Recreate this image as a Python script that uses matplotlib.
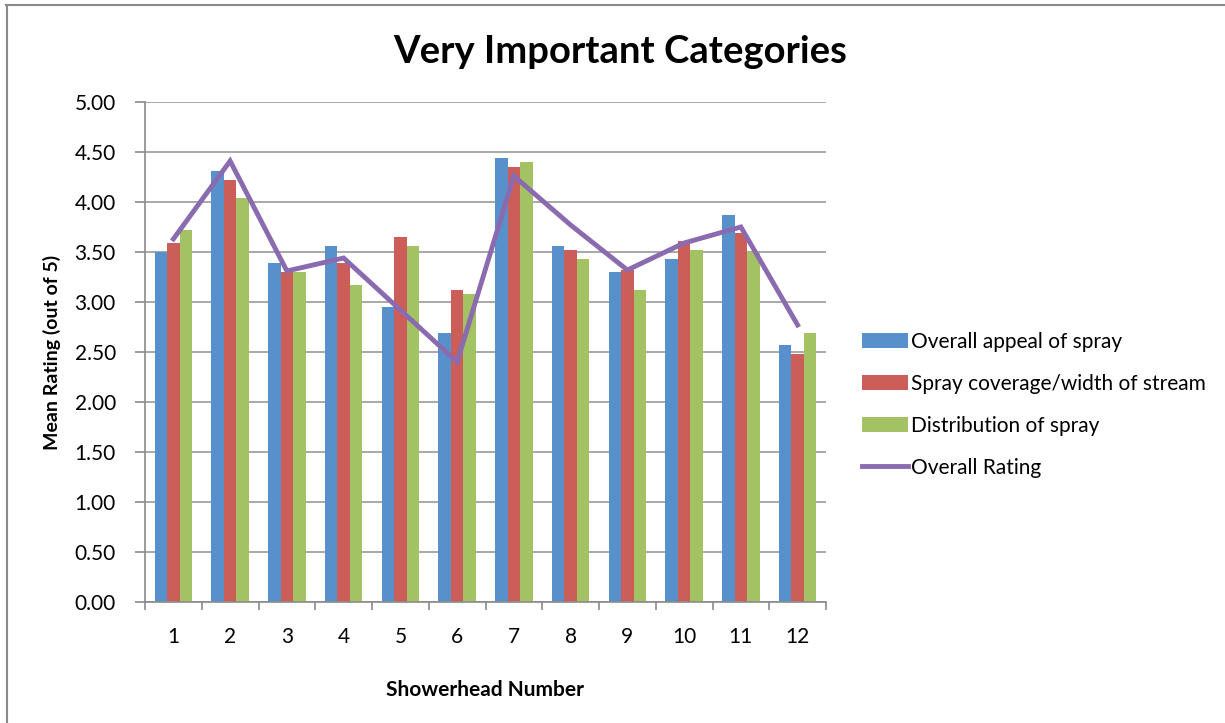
import numpy as np
import matplotlib.pyplot as plt
from matplotlib.lines import Line2D

plt.rcParams['font.family'] = ['Lato', 'DejaVu Sans']

# data
heads = [1, 2, 3, 4, 5, 6, 7, 8, 9, 10, 11, 12]
appeal = [3.50, 4.31, 3.39, 3.56, 2.95, 2.69, 4.44, 3.56, 3.30, 3.43, 3.87, 2.57]
coverage = [3.59, 4.22, 3.30, 3.39, 3.65, 3.12, 4.35, 3.52, 3.32, 3.61, 3.69, 2.48]
distribution = [3.72, 4.04, 3.30, 3.17, 3.56, 3.08, 4.40, 3.43, 3.12, 3.52, 3.50, 2.69]
overall = [3.63, 4.41, 3.31, 3.44, 2.92, 2.40, 4.26, 3.77, 3.32, 3.59, 3.75, 2.77]

names = ["Overall appeal of spray", "Spray coverage/width of stream",
         "Distribution of spray", "Overall Rating"]
colors = ["#5890CC", "#CB5E59", "#A3C264", "#8A6BB0"]

fig = plt.figure(figsize=(12.25, 7.23), dpi=100)
ax = fig.add_axes([145/1225, 1-602/723, 681/1225, 500/723])

x = np.array(heads)
w = 0.22
b1 = ax.bar(x - w, appeal, w, color=colors[0], label=names[0], zorder=2)
b2 = ax.bar(x, coverage, w, color=colors[1], label=names[1], zorder=2)
b3 = ax.bar(x + w, distribution, w, color=colors[2], label=names[2], zorder=2)
ln, = ax.plot(x, overall, color=colors[3], lw=3.5, label=names[3], zorder=3,
              solid_joinstyle='miter')

ax.set_xlim(0.5, 12.5)
ax.set_ylim(0, 5)
ax.set_yticks(np.arange(0, 5.01, 0.5))
ax.set_yticklabels(["%.2f" % v for v in np.arange(0, 5.01, 0.5)])
ax.yaxis.grid(True, color="#9a9a9a", lw=1.2, zorder=0)
ax.set_axisbelow(True)

# category ticks sit between the groups, labels in the middle
ax.set_xticks(np.arange(0.5, 13, 1))
ax.set_xticklabels([])
ax.set_xticks(x, minor=True)
ax.set_xticklabels([str(h) for h in heads], minor=True)
ax.tick_params(axis='x', which='minor', length=0, pad=18, labelsize=15)
ax.tick_params(axis='x', which='major', length=6, color="#8a8a8a", width=1.2)
ax.tick_params(axis='y', length=7, color="#8a8a8a", width=1.2, pad=14,
               labelsize=15)

for s in ['top', 'right']:
    ax.spines[s].set_visible(False)
for s in ['left', 'bottom']:
    ax.spines[s].set_color("#8a8a8a")
    ax.spines[s].set_linewidth(1.2)

ax.set_xlabel("Showerhead Number", fontsize=15, fontweight='bold', labelpad=24)
ax.set_ylabel("Mean Rating (out of 5)", fontsize=14, fontweight='bold', labelpad=10)
fig.text(620/1225, 1-52/723, "Very Important Categories", ha='center',
         va='center', fontsize=27.5, fontweight='bold')

ax.legend([b1, b2, b3, ln], names, loc='upper left',
          bbox_to_anchor=(862/1225, 1-332/723),
          bbox_transform=fig.transFigure, frameon=False, fontsize=15,
          borderpad=0, borderaxespad=0,
          handlelength=2.2, handletextpad=0.15, labelspacing=1.05)

# page frame
fig.add_artist(Line2D([6/1225, 1], [1-5/723, 1-5/723], color="#8a8a8a", lw=1.5,
                      transform=fig.transFigure))
fig.add_artist(Line2D([7/1225, 7/1225], [0, 1-5/723], color="#8a8a8a", lw=1.5,
                      transform=fig.transFigure))

fig.savefig("out.png", dpi=100)
